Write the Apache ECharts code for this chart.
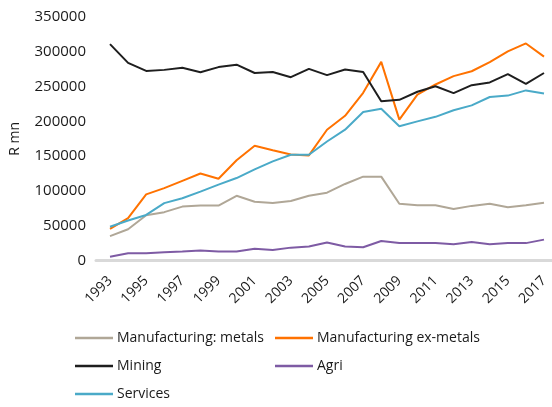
<!DOCTYPE html>
<html>
<head>
<meta charset="utf-8">
<script src="https://cdn.jsdelivr.net/npm/echarts@6/dist/echarts.min.js"></script>
<style>
  html, body { margin: 0; padding: 0; background: #fff; }
  #chart { width: 552px; height: 407px; }
</style>
</head>
<body>
<div id="chart"></div>
<script>
// Output by sector, R mn, 1993-2017
const years = ['1993','1994','1995','1996','1997','1998','1999','2000','2001','2002','2003','2004','2005',
               '2006','2007','2008','2009','2010','2011','2012','2013','2014','2015','2016','2017'];
const yTicks = [0, 50000, 100000, 150000, 200000, 250000, 300000, 350000];

const mfgMetals = [35000, 45000, 65000, 69500, 77500, 79000, 79000, 93000, 84500, 82500, 85500, 93000, 97500,
                   110000, 120500, 120500, 81500, 79500, 79500, 74000, 78500, 81500, 76500, 79500, 83000];
const mfgExMetals = [45500, 61000, 95000, 104000, 114500, 125000, 117500, 144000, 165000, 158500, 152500, 151000, 188000,
                     208000, 241000, 285500, 202500, 238500, 253000, 265000, 272000, 285000, 300500, 312000, 293000];
const mining = [311000, 284000, 272500, 274000, 277000, 270500, 278000, 281500, 269500, 271000, 263500, 275500, 266500,
                274500, 271000, 229000, 231000, 242500, 250500, 240500, 252000, 256000, 268000, 254000, 269500];
const agri = [5500, 10500, 10500, 12000, 13000, 14500, 13000, 13000, 17000, 15000, 18500, 20000, 26000,
              20000, 19000, 28000, 25000, 25000, 25000, 23500, 26500, 23500, 25000, 25000, 30000];
const services = [48500, 57500, 65500, 82500, 89500, 99000, 109000, 118500, 131000, 142500, 152000, 152000, 171000,
                  188000, 213500, 218000, 193000, 200000, 206500, 216000, 223000, 235000, 237000, 244500, 240000];

const seriesDefs = [
  { name: 'Manufacturing: metals', data: mfgMetals, color: '#b0a797' },
  { name: 'Manufacturing ex-metals', data: mfgExMetals, color: '#ff7200' },
  { name: 'Mining', data: mining, color: '#1e1e1e' },
  { name: 'Agri', data: agri, color: '#7e5ba4' },
  { name: 'Services', data: services, color: '#4aaac8' }
];

const FONT = 'Open Sans';
const TEXT = '#1a1a1a';

const chart = echarts.init(document.getElementById('chart'), null, { renderer: 'canvas' });

const legendBase = {
  orient: 'vertical',
  icon: 'rect',
  itemWidth: 38,
  itemHeight: 2.5,
  itemGap: 14,
  selectedMode: false,
  textStyle: { fontFamily: FONT, fontSize: 14, color: TEXT, padding: [0, 0, 0, -1] }
};

chart.setOption({
  animation: false,
  textStyle: { fontFamily: FONT },
  grid: [
    { left: 109.5, right: 8, top: 17, bottom: 146.5, containLabel: false },
    { left: 96, right: 0, top: 17, bottom: 146.5, containLabel: false }
  ],
  legend: [
    Object.assign({}, legendBase, { left: 70, top: 326, data: ['Manufacturing: metals', 'Mining', 'Services'] }),
    Object.assign({}, legendBase, { left: 270, top: 326, data: ['Manufacturing ex-metals', 'Agri'] })
  ],
  xAxis: [
    {
      type: 'category',
      gridIndex: 0,
      data: years,
      boundaryGap: false,
      axisLine: { show: false },
      axisTick: { show: false },
      axisLabel: {
        interval: 1,
        rotate: 45,
        margin: 18,
        fontFamily: FONT,
        fontSize: 14,
        color: TEXT
      },
      splitLine: { show: false }
    },
    {
      // baseline running the full width under the plot
      type: 'value',
      gridIndex: 1,
      min: 0,
      max: 1,
      axisLine: { show: true, lineStyle: { color: '#d9d9d9', width: 3 } },
      axisTick: { show: false },
      axisLabel: { show: false },
      splitLine: { show: false }
    }
  ],
  yAxis: [
    {
      type: 'value',
      gridIndex: 0,
      min: yTicks[0],
      max: yTicks[yTicks.length - 1],
      interval: yTicks[1] - yTicks[0],
      name: 'R mn',
      nameLocation: 'middle',
      nameGap: 88,
      nameRotate: 90,
      nameTextStyle: { fontFamily: FONT, fontSize: 14, color: TEXT },
      axisLine: { show: false },
      axisTick: { show: false },
      splitLine: { show: false },
      axisLabel: {
        margin: 24,
        fontFamily: FONT,
        fontSize: 15,
        color: TEXT,
        formatter: v => String(v)
      }
    },
    {
      type: 'value',
      gridIndex: 1,
      min: 0,
      max: 1,
      show: false
    }
  ],
  series: seriesDefs.map(s => ({
    name: s.name,
    type: 'line',
    xAxisIndex: 0,
    yAxisIndex: 0,
    data: s.data,
    color: s.color,
    symbol: 'none',
    lineStyle: { width: 2, color: s.color },
    emphasis: { disabled: true }
  }))
});
</script>
</body>
</html>
